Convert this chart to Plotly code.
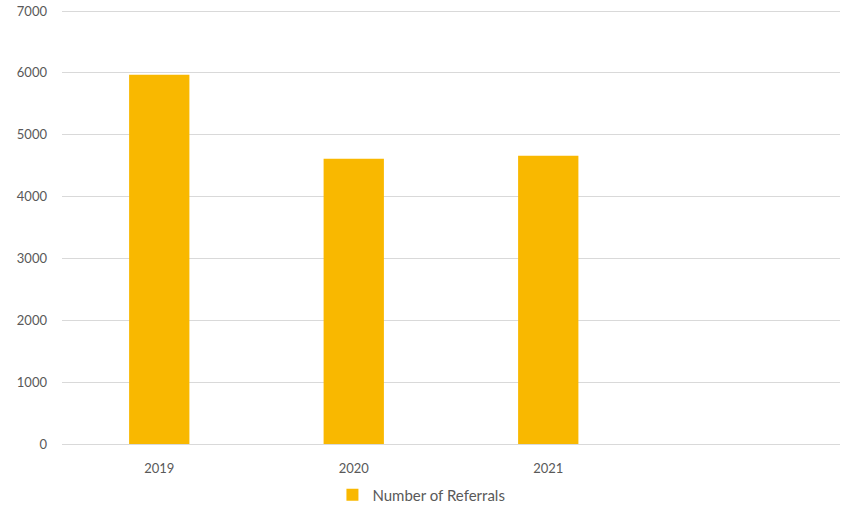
import plotly.graph_objects as go

years = ["2019", "2020", "2021"]
referrals = [5970, 4610, 4660]
series_name = "Number of Referrals"
y_ticks = [0, 1000, 2000, 3000, 4000, 5000, 6000, 7000]

fig = go.Figure()
fig.add_trace(go.Bar(
    x=years, y=referrals, name=series_name,
    marker=dict(color="#F9B800", line=dict(width=0)),
    width=0.31,
))

font = dict(family="Lato, Open Sans, sans-serif", size=13, color="#595959")

fig.update_layout(
    width=841, height=506,
    margin=dict(l=62, r=1, t=5, b=62, autoexpand=False),
    paper_bgcolor="white", plot_bgcolor="white",
    font=font,
    showlegend=True,
    legend=dict(orientation="h", x=0.462, xanchor="center", y=-0.116, yanchor="middle",
                font=dict(family="Lato, Open Sans, sans-serif", size=15, color="#595959"),
                itemwidth=30),
    xaxis=dict(type="category", range=[-0.5, 3.5], showgrid=False, automargin=False,
               showline=True, linecolor="#D9D9D9", linewidth=1,
               ticks="", ticklabelstandoff=12, tickfont=font),
    yaxis=dict(range=[0, 7097], tickvals=y_ticks, showgrid=True, gridcolor="#D9D9D9",
               gridwidth=1, zeroline=False, showline=False, ticks="", automargin=False,
               ticklabelstandoff=14, tickfont=font),
)

post = (
    "document.body.style.margin='0';document.body.style.padding='0';"
    "document.body.style.overflow='hidden';"
    "var gd=document.getElementById('{plot_id}');"
    "Plotly.relayout(gd,{width:841,height:506});"
)
fig.write_html("out.html", post_script=post, config={"displayModeBar": False})
